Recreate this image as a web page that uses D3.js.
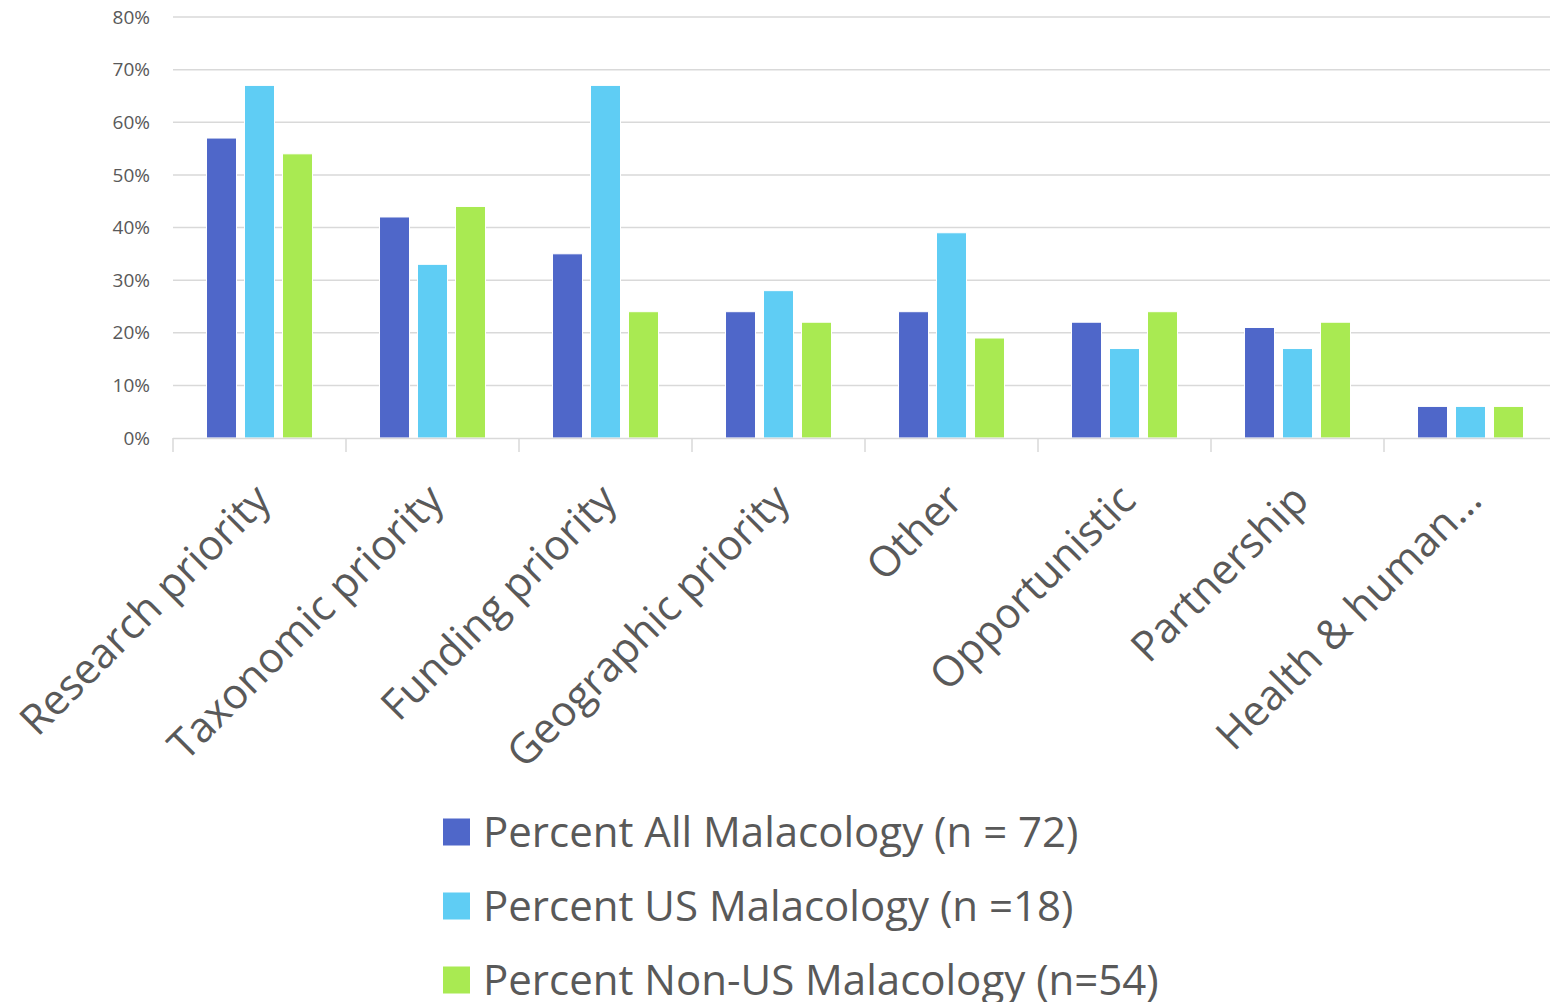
<!DOCTYPE html>
<html><head><meta charset="utf-8">
<script src="https://cdn.jsdelivr.net/npm/d3@7"></script>
<style>body{margin:0;background:#fff;} svg{display:block;}</style>
</head><body>
<svg id="c" width="1550" height="1002"></svg>
<script>
const categories = ["Research priority","Taxonomic priority","Funding priority","Geographic priority","Other","Opportunistic","Partnership","Health & human…"];
const seriesNames = ["Percent All Malacology (n = 72)","Percent US Malacology (n =18)","Percent Non-US Malacology (n=54)"];
const allMalacology = [57,42,35,24,24,22,21,6];
const usMalacology = [67,33,67,28,39,17,17,6];
const nonUsMalacology = [54,44,24,22,19,24,22,6];
const yTicks = [0,10,20,30,40,50,60,70,80];
const colors = ["#4f67c9","#5fcdf4","#a9ea52"];

const seriesValues = [allMalacology, usMalacology, nonUsMalacology];
const svg = d3.select("#c");
const font = "'Open Sans', sans-serif";
const textColor = "#595959";

const x0 = d3.scaleBand().domain(categories).range([173, 1557]).padding(0);
const x1 = d3.scaleBand().domain([0,1,2]).range([0, x0.bandwidth()]).paddingInner(8/38).paddingOuter(0.882);
const y = d3.scaleLinear().domain([0,80]).range([438, 17]);

// gridlines
svg.append("g").selectAll("line").data(yTicks.filter(d=>d>0)).join("line")
  .attr("x1",173).attr("x2",1550).attr("y1",d=>y(d)).attr("y2",d=>y(d))
  .attr("stroke","#d9d9d9").attr("stroke-width",1.5);

// y labels
svg.append("g").selectAll("text").data(yTicks).join("text")
  .attr("x",150).attr("y",d=>y(d)).attr("dy","0.35em").attr("text-anchor","end")
  .attr("font-family",font).attr("font-size",19).attr("fill",textColor)
  .text(d=>d+"%");

// bars
const g = svg.append("g");
categories.forEach((c,i)=>{
  seriesValues.forEach((vals,s)=>{
    g.append("rect")
      .attr("x", x0(c)+x1(s)).attr("width", x1.bandwidth())
      .attr("y", y(vals[i])).attr("height", y(0)-y(vals[i]))
      .attr("fill", colors[s]).attr("stroke","#fff").attr("stroke-width",1);
  });
});

// x axis
const xAxis = d3.axisBottom(x0).tickSize(0).tickFormat("");
const ax = svg.append("g").attr("transform","translate(0,438)").call(xAxis);
ax.select(".domain").remove();
svg.append("line").attr("x1",173).attr("x2",1550).attr("y1",438.5).attr("y2",438.5).attr("stroke","#d9d9d9").attr("stroke-width",1.5);
svg.append("g").selectAll("line").data(categories).join("line")
  .attr("x1",d=>x0(d)).attr("x2",d=>x0(d)).attr("y1",438).attr("y2",452)
  .attr("stroke","#d9d9d9").attr("stroke-width",1.5);

// x labels
svg.append("g").selectAll("text").data(categories).join("text")
  .attr("transform",d=>`translate(${x0(d)+x0.bandwidth()/2+3},${492}) rotate(-45)`)
  .attr("text-anchor","end").attr("dy","0.35em")
  .attr("font-family",font).attr("font-size",42).attr("fill",textColor)
  .text(d=>d);

// legend
const leg = svg.append("g");
seriesNames.forEach((n,i)=>{
  const cy = 832 + i*74;
  leg.append("rect").attr("x",443).attr("y",cy-13.5).attr("width",27).attr("height",27).attr("fill",colors[i]);
  leg.append("text").attr("x",483).attr("y",cy).attr("dy","0.35em")
    .attr("font-family",font).attr("font-size",42).attr("fill",textColor).text(n);
});
</script>
</body></html>
